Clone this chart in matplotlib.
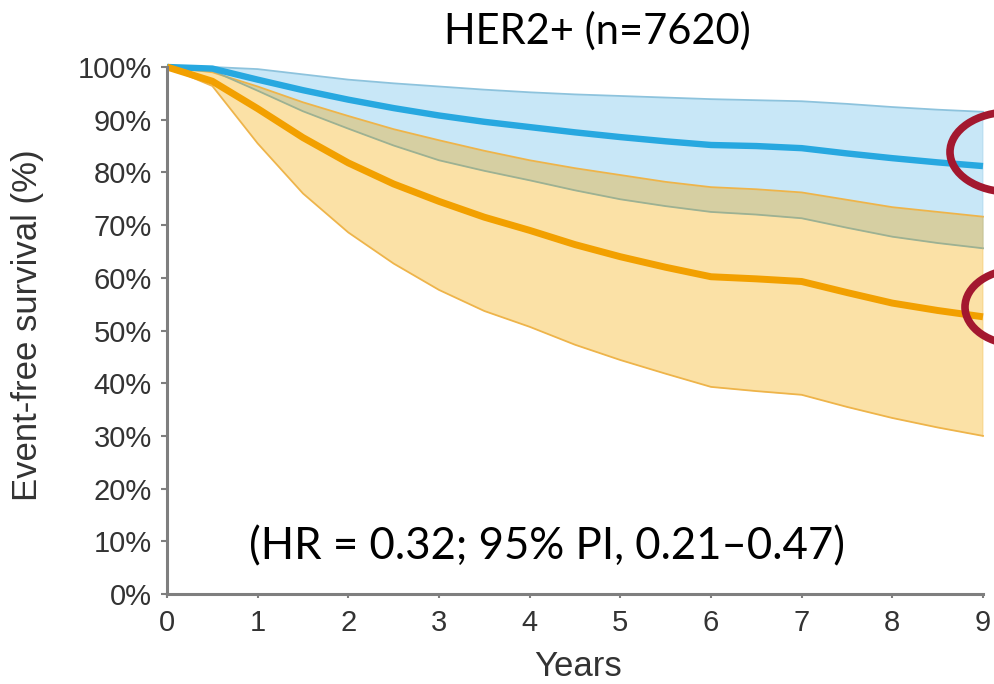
import matplotlib
matplotlib.use("Agg")
import matplotlib.pyplot as plt
from matplotlib.patches import Ellipse

# ---- data ----
years = [0, 0.5, 1, 1.5, 2, 2.5, 3, 3.5, 4, 4.5, 5, 5.5, 6, 6.5, 7, 7.5, 8, 8.5, 9]
blue_mean  = [100, 99.7, 97.6, 95.6, 93.8, 92.2, 90.8, 89.6, 88.6, 87.6, 86.7, 85.9, 85.2, 85.0, 84.6, 83.6, 82.7, 81.9, 81.2]
blue_upper = [100, 100, 99.6, 98.6, 97.6, 96.9, 96.3, 95.7, 95.2, 94.8, 94.5, 94.2, 93.9, 93.7, 93.5, 93.0, 92.4, 91.9, 91.5]
blue_lower = [100, 99.3, 95.5, 91.6, 88.3, 85.1, 82.3, 80.3, 78.5, 76.6, 74.9, 73.6, 72.5, 72.0, 71.3, 69.5, 67.8, 66.6, 65.6]
orange_mean  = [100, 97.3, 92.1, 86.6, 81.8, 77.8, 74.5, 71.5, 69.0, 66.3, 64.0, 62.0, 60.2, 59.8, 59.3, 57.2, 55.2, 53.8, 52.6]
orange_upper = [100, 99.0, 96.3, 93.3, 90.7, 88.2, 86.1, 84.1, 82.3, 80.8, 79.5, 78.2, 77.2, 76.8, 76.2, 74.8, 73.4, 72.5, 71.6]
orange_lower = [100, 96.4, 85.5, 76.0, 68.6, 62.7, 57.7, 53.7, 50.7, 47.3, 44.4, 41.8, 39.3, 38.5, 37.8, 35.5, 33.4, 31.6, 30.0]

x_ticks = [0, 1, 2, 3, 4, 5, 6, 7, 8, 9]
y_ticks = [0, 10, 20, 30, 40, 50, 60, 70, 80, 90, 100]
y_tick_labels = [f"{v}%" for v in y_ticks]

title_text = "HER2+ (n=7620)"
hr_text = "(HR = 0.32; 95% PI, 0.21\u20130.47)"
x_label = "Years"
y_label = "Event-free survival (%)"

# ---- styling ----
BLUE_LINE = "#27A8E0"
BLUE_FILL = "#C8E7F7"
BLUE_EDGE = "#8DC3DD"
ORANGE_LINE = "#F2A000"
ORANGE_FILL = "#FBE1A6"
ORANGE_EDGE = "#EEB44A"
OVERLAP_FILL = "#D6CFA2"
OVERLAP_EDGE = "#9DB192"
AXIS_GREY = "#7F7F7F"
TEXT_GREY = "#333333"

plt.rcParams['font.family'] = ['Liberation Sans', 'DejaVu Sans']

W, H = 995, 684
AX_L, AX_R, AX_T, AX_B = 167, 983, 67, 594

fig = plt.figure(figsize=(W/100, H/100), dpi=100)
ax = fig.add_axes([AX_L/W, 1-AX_B/H, (AX_R-AX_L)/W, (AX_B-AX_T)/H])

# bands
ax.fill_between(years, orange_lower, orange_upper, color=ORANGE_FILL, lw=0, zorder=1)
ax.fill_between(years, blue_lower, blue_upper, color=BLUE_FILL, lw=0, zorder=1)
ax.fill_between(years, blue_lower, orange_upper, color=OVERLAP_FILL, lw=0, zorder=2)

# band edges
ax.plot(years, blue_upper, color=BLUE_EDGE, lw=1.3, zorder=3, clip_on=False)
ax.plot(years, orange_upper, color=ORANGE_EDGE, lw=1.3, zorder=3, clip_on=False)
ax.plot(years, blue_lower, color=OVERLAP_EDGE, lw=1.3, zorder=3, clip_on=False)
ax.plot(years, orange_lower, color=ORANGE_EDGE, lw=1.3, zorder=3, clip_on=False)
ax.plot([years[-1], years[-1]], [blue_lower[-1], blue_upper[-1]], color=BLUE_EDGE, lw=1.0, zorder=3)
ax.plot([years[-1], years[-1]], [orange_lower[-1], orange_upper[-1]], color=ORANGE_EDGE, lw=1.0, zorder=3)

# mean curves
ax.plot(years, blue_mean, color=BLUE_LINE, lw=4.6, zorder=4, clip_on=False, solid_capstyle='butt')
ax.plot(years, orange_mean, color=ORANGE_LINE, lw=5.0, zorder=4, clip_on=False, solid_capstyle='butt')

ax.set_xlim(0, 9)
ax.set_ylim(0, 100)
ax.set_xticks(x_ticks)
ax.set_xticklabels([str(v) for v in x_ticks])
ax.set_yticks(y_ticks)
ax.set_yticklabels(y_tick_labels)

for s in ['top', 'right']:
    ax.spines[s].set_visible(False)
for s in ['left', 'bottom']:
    ax.spines[s].set_color(AXIS_GREY)
    ax.spines[s].set_linewidth(2.2)
    ax.spines[s].set_zorder(5)

ax.tick_params(axis='x', colors=AXIS_GREY, length=3, width=1.5, labelsize=21,
               labelcolor=TEXT_GREY, pad=8)
ax.tick_params(axis='y', colors=AXIS_GREY, length=4, width=1.5, labelsize=21,
               labelcolor=TEXT_GREY, pad=7)

ax.set_xlabel(x_label, fontsize=25, color=TEXT_GREY, va='center')
ax.xaxis.set_label_coords((578-AX_L)/(AX_R-AX_L), -(667-AX_B)/(AX_B-AX_T))
ax.set_ylabel(y_label, fontsize=25, color=TEXT_GREY, va='center')
ax.yaxis.set_label_coords((28-AX_L)/(AX_R-AX_L), (AX_B-325)/(AX_B-AX_T))

fig.text(597/W, 1-31/H, title_text, ha='center', va='center', fontsize=30,
         family=['Lato', 'DejaVu Sans'], color='black')
fig.text(547/W, 1-547/H, hr_text, ha='center', va='center', fontsize=31.5,
         family=['Lato', 'DejaVu Sans'], color='black')

# red annotation ellipses at the right edge
RED = "#A3182F"
e1 = Ellipse((1010/W, 1-152/H), 120/W, 80/H, transform=fig.transFigure,
             fill=False, edgecolor=RED, lw=5.5, clip_on=False, zorder=10)
e2 = Ellipse((1020/W, 1-307/H), 110/W, 76/H, transform=fig.transFigure,
             fill=False, edgecolor=RED, lw=5.5, clip_on=False, zorder=10)
fig.add_artist(e1)
fig.add_artist(e2)

fig.savefig("out.png", dpi=100)
